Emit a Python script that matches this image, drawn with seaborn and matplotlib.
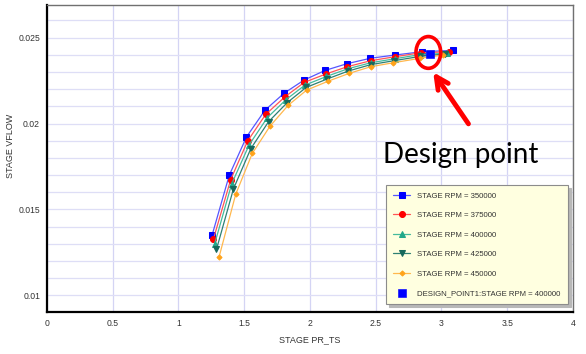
import numpy as np
import pandas as pd
import seaborn as sns
import matplotlib
matplotlib.use("Agg")
import matplotlib.pyplot as plt
from matplotlib.patches import Ellipse
from matplotlib.ticker import MultipleLocator

# =====================
# DATA
# =====================
rpm_labels = ["STAGE RPM = 350000", "STAGE RPM = 375000", "STAGE RPM = 400000",
              "STAGE RPM = 425000", "STAGE RPM = 450000"]

pr_350 = [1.255, 1.386, 1.517, 1.658, 1.802, 1.954, 2.114, 2.279, 2.459, 2.646, 2.849, 3.084]
vf_350 = [0.01349, 0.01699, 0.01922, 0.02078, 0.02176, 0.02253, 0.02309, 0.02348, 0.02380, 0.02399, 0.02418, 0.02426]

pr_375 = [1.265, 1.397, 1.526, 1.663, 1.810, 1.957, 2.119, 2.284, 2.462, 2.646, 2.842, 3.057]
vf_375 = [0.01326, 0.01674, 0.01899, 0.02053, 0.02156, 0.02240, 0.02288, 0.02331, 0.02366, 0.02389, 0.02412, 0.02418]

pr_400 = [1.274, 1.405, 1.538, 1.675, 1.817, 1.962, 2.125, 2.288, 2.462, 2.643, 2.840, 3.040]
vf_400 = [0.01297, 0.01650, 0.01877, 0.02034, 0.02139, 0.02224, 0.02274, 0.02319, 0.02354, 0.02377, 0.02402, 0.02409]

pr_425 = [1.289, 1.418, 1.550, 1.685, 1.827, 1.970, 2.132, 2.292, 2.462, 2.639, 2.838, 3.024]
vf_425 = [0.01268, 0.01620, 0.01854, 0.02011, 0.02122, 0.02210, 0.02260, 0.02306, 0.02343, 0.02366, 0.02391, 0.02405]

pr_450 = [1.308, 1.435, 1.561, 1.696, 1.835, 1.975, 2.139, 2.297, 2.462, 2.633, 2.837, 3.009]
vf_450 = [0.01222, 0.01588, 0.01826, 0.01985, 0.02107, 0.02195, 0.02247, 0.02292, 0.02331, 0.02354, 0.02380, 0.02399]

design_label = "DESIGN_POINT1:STAGE RPM = 400000"
design_pr = [2.916]
design_vf = [0.02407]

x_ticks = [0, 0.5, 1, 1.5, 2, 2.5, 3, 3.5, 4]
x_tick_labels = ["0", "0.5", "1", "1.5", "2", "2.5", "3", "3.5", "4"]
y_ticks = [0.01, 0.015, 0.02, 0.025]
y_tick_labels = ["0.01", "0.015", "0.02", "0.025"]

# =====================
# STYLE
# =====================
sns.set_style("white")
plt.rcParams["font.family"] = ["Liberation Sans", "DejaVu Sans"]

series = [
    (pr_350, vf_350, "#0000ff", "#5555ff", "s", 4.3),
    (pr_375, vf_375, "#ff0000", "#ff5555", "o", 4.3),
    (pr_400, vf_400, "#22a88a", "#44bb9c", "^", 3.8),
    (pr_425, vf_425, "#17695c", "#2e8073", "v", 3.8),
    (pr_450, vf_450, "#ffa31a", "#ffb84d", "D", 2.6),
]

fig = plt.figure(figsize=(5.86, 3.54), dpi=100)
ax = fig.add_axes([0.0802, 0.1186, 0.8976, 0.8672])

for (px, vy, mcol, lcol, mk, ms), lab in zip(series, rpm_labels):
    df = pd.DataFrame({"pr": px, "vf": vy})
    sns.lineplot(data=df, x="pr", y="vf", sort=False, ax=ax, color=lcol, lw=0.9,
                 marker=mk, markersize=ms, markerfacecolor=mcol, markeredgecolor=mcol,
                 label=lab)

sns.scatterplot(x=design_pr, y=design_vf, ax=ax, marker="s", s=28, color="#0000ff",
                edgecolor="#0000ff", label=design_label, zorder=5)

# =====================
# AXES
# =====================
ax.set_xlim(0, 4)
ax.set_ylim(0.00903, 0.0269)
ax.set_xticks(x_ticks)
ax.set_xticklabels(x_tick_labels)
ax.set_yticks(y_ticks)
ax.set_yticklabels(y_tick_labels)
ax.xaxis.set_minor_locator(MultipleLocator(0.1))
ax.yaxis.set_minor_locator(MultipleLocator(0.001))

ax.grid(True, which="major", axis="x", color="#d4d4f4", lw=0.9)
ax.grid(True, which="both", axis="y", color="#dedef6", lw=0.9)
ax.set_axisbelow(True)

ax.tick_params(axis="both", which="major", direction="out", length=3, width=0.8,
               labelsize=6.2, colors="black", pad=2)
ax.tick_params(axis="x", which="minor", direction="out", length=2, width=0.6)
ax.tick_params(axis="y", which="minor", length=0)
ax.tick_params(axis="both", labelcolor="#333333")

for side in ["left", "bottom"]:
    ax.spines[side].set_color("black")
    ax.spines[side].set_linewidth(1.6)
for side in ["top", "right"]:
    ax.spines[side].set_color("#707070")
    ax.spines[side].set_linewidth(1.0)

ax.set_xlabel("STAGE PR_TS", fontsize=6.5, color="#333333", labelpad=5)
ax.set_ylabel("STAGE VFLOW", fontsize=6.5, color="#333333")
ax.yaxis.set_label_coords(-0.061, 0.54)

# =====================
# LEGEND
# =====================
leg = ax.legend(loc="lower right", bbox_to_anchor=(0.99, 0.026), borderaxespad=0,
                fontsize=5.6, labelspacing=1.55, handlelength=2.2, handletextpad=0.9,
                borderpad=0.9, frameon=True, fancybox=False,
                shadow={"color": "#b8b8b8", "alpha": 1.0, "ox": 2, "oy": -2})
leg.get_frame().set_facecolor("#ffffe0")
leg.get_frame().set_edgecolor("#8c8c8c")
leg.get_frame().set_linewidth(0.8)
for t in leg.get_texts():
    t.set_color("#333333")

# =====================
# ANNOTATIONS
# =====================
ax.add_patch(Ellipse((2.900, 0.02414), 0.188, 0.00185, fill=False, ec="red", lw=2.6, zorder=6))
ax.annotate("", xy=(2.925, 0.02312), xytext=(3.217, 0.01985),
            arrowprops=dict(arrowstyle="->", color="red", lw=3.5, mutation_scale=22),
            zorder=6)
ax.text(2.555, 0.01816, "Design point", fontsize=20, family="Lato", color="black",
        ha="left", va="center")

plt.savefig("out.png", dpi=100)
